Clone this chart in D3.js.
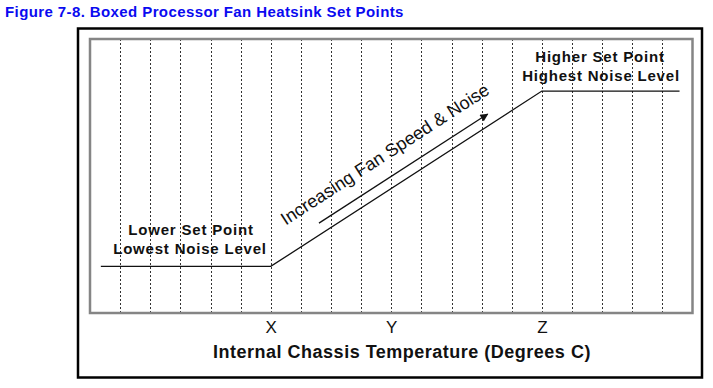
<!DOCTYPE html>
<html>
<head>
<meta charset="utf-8">
<script src="https://cdn.jsdelivr.net/npm/d3@7"></script>
<style>
  body { margin: 0; background: #fff; }
  svg { display: block; font-family: Arial, "Liberation Sans", sans-serif; }
</style>
</head>
<body>
<div id="chart"></div>
<script>
// fan curve: temperature position (0..20 grid units) vs fan speed (%)
const curveTemp  = [0.36, 6, 15, 19.57];
const curveSpeed = [17, 17, 81, 81];

// set point ticks on the temperature axis
const tickLabels = ['X', 'Y', 'Z'];
const tickValues = [6, 10, 15];

// arrow showing increasing fan speed
const arrowTemp  = [7.6, 13.2];
const arrowSpeed = [32.8, 72.6];

const width = 713;
const height = 388;
const margin = { top: 39, right: 20, bottom: 75, left: 90 };

const svg = d3.select('#chart')
  .append('svg')
  .attr('width', width)
  .attr('height', height);

svg.append('rect')
  .attr('width', width)
  .attr('height', height)
  .attr('fill', '#fff');

// title
svg.append('text')
  .attr('x', 5)
  .attr('y', 17)
  .attr('fill', '#0a0af0')
  .attr('font-size', 15)
  .attr('font-weight', 'bold')
  .attr('letter-spacing', 0.4)
  .text('Figure 7-8. Boxed Processor Fan Heatsink Set Points');

// outer box
svg.append('rect')
  .attr('x', 78)
  .attr('y', 28.5)
  .attr('width', 624)
  .attr('height', 349)
  .attr('fill', 'none')
  .attr('stroke', '#000')
  .attr('stroke-width', 2.5);

const x = d3.scaleLinear()
  .domain([0, 20])
  .range([margin.left, 692.5]);

const y = d3.scaleLinear()
  .domain([0, 100])
  .range([313, margin.top]);

// dashed vertical grid
svg.append('g')
  .selectAll('line')
  .data(d3.range(1, 20))
  .enter()
  .append('line')
  .attr('x1', d => Math.round(x(d)) + 0.5)
  .attr('x2', d => Math.round(x(d)) + 0.5)
  .attr('y1', y(100))
  .attr('y2', y(0))
  .attr('stroke', '#333')
  .attr('stroke-width', 1)
  .attr('stroke-dasharray', '2,2');

// plot frame
svg.append('rect')
  .attr('x', x(0))
  .attr('y', y(100))
  .attr('width', x(20) - x(0))
  .attr('height', y(0) - y(100))
  .attr('fill', 'none')
  .attr('stroke', '#858585')
  .attr('stroke-width', 2.5);

// x axis with set point labels
const xAxis = d3.axisBottom(x)
  .tickValues(tickValues)
  .tickFormat((d, i) => tickLabels[i])
  .tickSize(0)
  .tickPadding(8);

const gx = svg.append('g')
  .attr('transform', `translate(0, ${y(0)})`)
  .call(xAxis);
gx.select('.domain').remove();
gx.selectAll('text')
  .attr('font-family', 'Arial, "Liberation Sans", sans-serif')
  .attr('font-size', 17)
  .attr('fill', '#111');

svg.append('text')
  .attr('x', 402)
  .attr('y', 358)
  .attr('text-anchor', 'middle')
  .attr('font-size', 18)
  .attr('font-weight', 'bold')
  .attr('letter-spacing', 0.5)
  .attr('fill', '#111')
  .text('Internal Chassis Temperature (Degrees C)');

// fan curve
const line = d3.line()
  .x(d => x(d[0]))
  .y(d => y(d[1]));

svg.append('path')
  .datum(d3.zip(curveTemp, curveSpeed))
  .attr('d', line)
  .attr('fill', 'none')
  .attr('stroke', '#111')
  .attr('stroke-width', 1.3);

// arrow
svg.append('defs').append('marker')
  .attr('id', 'arrowhead')
  .attr('viewBox', '0 0 10 10')
  .attr('refX', 9)
  .attr('refY', 5)
  .attr('markerWidth', 10)
  .attr('markerHeight', 8)
  .attr('markerUnits', 'userSpaceOnUse')
  .attr('orient', 'auto')
  .append('path')
  .attr('d', 'M0,0 L10,5 L0,10 Z')
  .attr('fill', '#111');

svg.append('path')
  .datum(d3.zip(arrowTemp, arrowSpeed))
  .attr('d', line)
  .attr('fill', 'none')
  .attr('stroke', '#111')
  .attr('stroke-width', 1.3)
  .attr('marker-end', 'url(#arrowhead)');

// rotated label along the slope
const ax0 = x(arrowTemp[0]), ay0 = y(arrowSpeed[0]);
const ax1 = x(arrowTemp[1]), ay1 = y(arrowSpeed[1]);
const angle = Math.atan2(ay1 - ay0, ax1 - ax0) * 180 / Math.PI;
const lx = x(9.9), ly = y(56.8) + 2;
svg.append('text')
  .attr('transform', `translate(${lx}, ${ly}) rotate(${angle})`)
  .attr('text-anchor', 'middle')
  .attr('font-size', 18)
  .attr('fill', '#111')
  .text('Increasing Fan Speed & Noise');

// set point annotations
const notes = [
  { t: 'Lower Set Point', cx: 191, cy: 235 },
  { t: 'Lowest Noise Level', cx: 190, cy: 254 },
  { t: 'Higher Set Point', cx: 600, cy: 62 },
  { t: 'Highest Noise Level', cx: 601, cy: 81 }
];
svg.append('g')
  .selectAll('text')
  .data(notes)
  .enter()
  .append('text')
  .attr('x', d => d.cx)
  .attr('y', d => d.cy)
  .attr('text-anchor', 'middle')
  .attr('font-size', 15)
  .attr('font-weight', 'bold')
  .attr('letter-spacing', 0.8)
  .attr('fill', '#111')
  .text(d => d.t);
</script>
</body>
</html>
